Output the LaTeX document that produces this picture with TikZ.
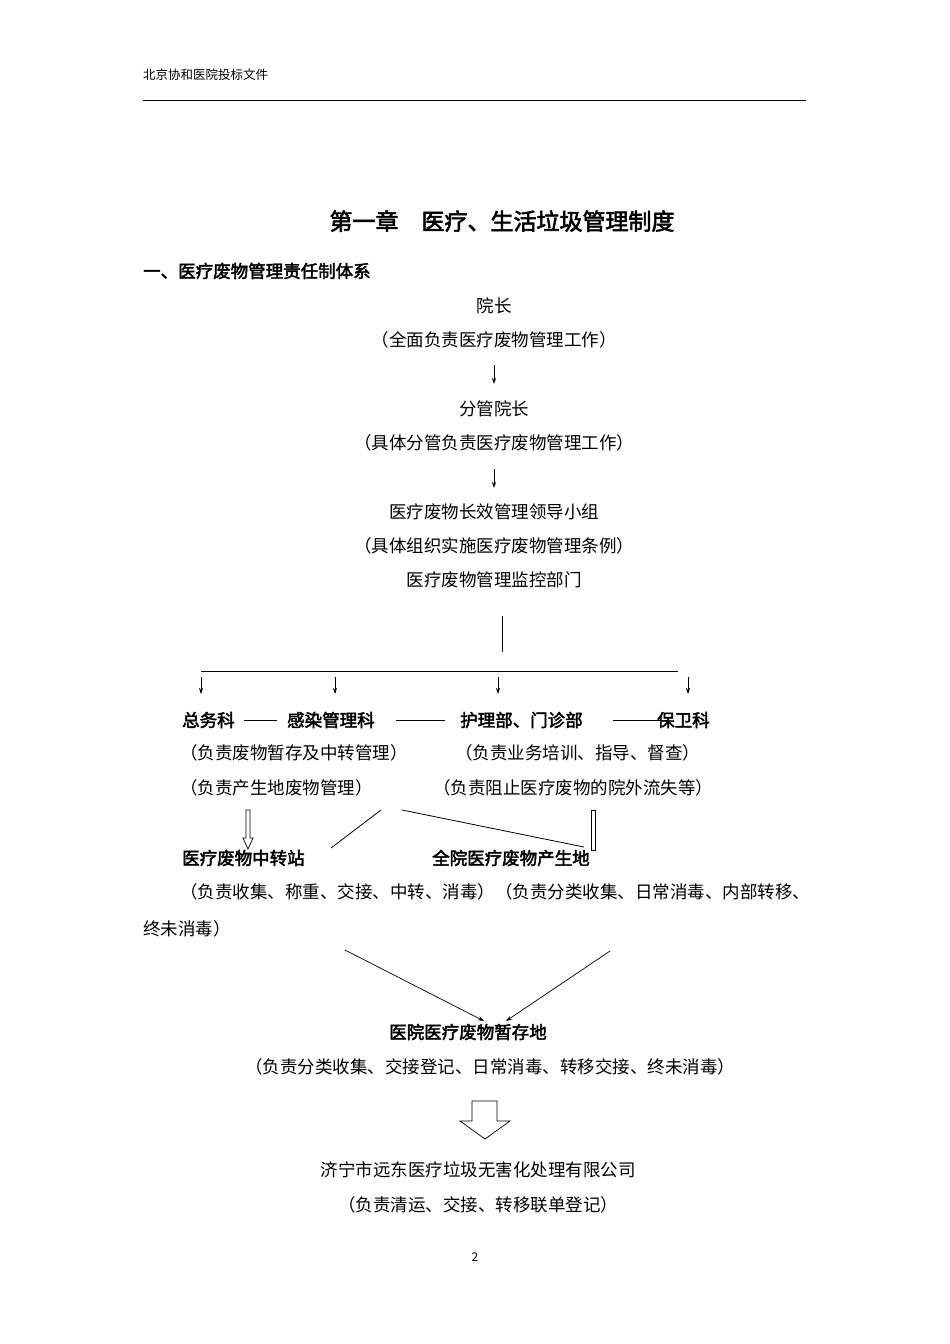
\documentclass[tikz,border=0pt]{standalone}
\usepackage{fontspec}
\setmainfont{Noto Sans CJK SC}[AutoFakeBold=2.5]
\usetikzlibrary{arrows.meta}
\begin{document}
\begin{tikzpicture}[x=1pt,y=-1pt,
  txt/.style={inner sep=0pt,font=\fontsize{17.5}{20}\selectfont},
  btxt/.style={inner sep=0pt,font=\fontsize{17.5}{20}\selectfont\bfseries},
  arr/.style={-{Stealth[length=6pt,width=4pt]},line width=0.7pt},
  ln/.style={line width=0.8pt},
  hollow/.style={draw,line width=0.7pt,fill=white}]
\useasboundingbox (0,0) rectangle (950,1344);
\node[txt,anchor=west,font=\fontsize{12.5}{14}\selectfont] (hdr) at (143,75) {北京协和医院投标文件};
\draw[line width=1pt] (143,100) -- (806,100);
\node[btxt,font=\fontsize{23}{26}\selectfont\bfseries] (title) at (502,221) {第一章\quad 医疗、生活垃圾管理制度};
\node[btxt,anchor=west] (sec) at (143,271) {一、医疗废物管理责任制体系};
\node[txt] (a1) at (494,306) {院长};
\node[txt] (a2) at (494,340) {（全面负责医疗废物管理工作）};
\node[txt] (b1) at (494,409) {分管院长};
\node[txt] (b2) at (494,443) {（具体分管负责医疗废物管理工作）};
\node[txt] (c1) at (494,512) {医疗废物长效管理领导小组};
\node[txt] (c2) at (494,546) {（具体组织实施医疗废物管理条例）};
\node[txt] (c3) at (494,580) {医疗废物管理监控部门};
\coordinate (u1) at (494,365); \coordinate (u2) at (494,384);
\coordinate (v1) at (494,469); \coordinate (v2) at (494,488);
\draw[arr] (u1) -- (u2);
\draw[arr] (v1) -- (v2);
\coordinate (t1) at (502,616); \coordinate (t2) at (502,652);
\draw[ln] (t1) -- (t2);
\coordinate (h1) at (201,671); \coordinate (h2) at (678,671);
\draw[ln] (h1) -- (h2);
\foreach \x in {201,335,498,688}{\draw[arr] (\x,677) -- (\x,694);}
\node[btxt,anchor=west] (d1) at (182,720) {总务科};
\node[btxt,anchor=west] (d2) at (287,720) {感染管理科};
\node[btxt,anchor=west] (d3) at (460,720) {护理部、门诊部};
\node[btxt,anchor=west] (d4) at (657,720) {保卫科};
\draw[ln] (244,720) -- (277,720);
\draw[ln] (396,720) -- (445,720);
\draw[ln] (613,720) -- (668,720);
\node[txt,anchor=west] (e1) at (180,753) {（负责废物暂存及中转管理）};
\node[txt,anchor=west] (e2) at (455,753) {（负责业务培训、指导、督查）};
\node[txt,anchor=west] (f1) at (180,788) {（负责产生地废物管理）};
\node[txt,anchor=west] (f2) at (433,788) {（负责阻止医疗废物的院外流失等）};
% hollow thin arrows
\draw[hollow] (246,810) -- (250,810) -- (250,838) -- (253,838) -- (248,849) -- (243,838) -- (246,838) -- cycle;
\draw[hollow] (591,810) -- (595,810) -- (595,850) -- (591,850) -- cycle;
\draw[ln] (381,810) -- (331,848);
\draw[ln] (402,810) -- (584,847);
\node[btxt,anchor=west] (g1) at (182,858) {医疗废物中转站};
\node[btxt,anchor=west] (g2) at (432,858) {全院医疗废物产生地};
\node[txt,anchor=west] (k1) at (180,892) {（负责收集、称重、交接、中转、消毒）（负责分类收集、日常消毒、内部转移、};
\node[txt,anchor=west] (k2) at (143,929) {终未消毒）};
\coordinate (m1) at (345,950); \coordinate (m2) at (484,1021);
\coordinate (n1) at (610,951); \coordinate (n2) at (506,1021);
\draw[arr] (m1) -- (m2);
\draw[arr] (n1) -- (n2);
\node[btxt] (p1) at (468,1032) {医院医疗废物暂存地};
\node[txt] (p2) at (490,1067) {（负责分类收集、交接登记、日常消毒、转移交接、终未消毒）};
\draw[hollow] (472,1101) -- (497,1101) -- (497,1121) -- (510,1121) -- (485,1139) -- (460,1121) -- (472,1121) -- cycle;
\node[txt] (q1) at (478,1170) {济宁市远东医疗垃圾无害化处理有限公司};
\node[txt] (q2) at (478,1205) {（负责清运、交接、转移联单登记）};
\node[txt,font=\fontsize{12}{14}\selectfont] (pg) at (475,1257) {2};
\end{tikzpicture}
\end{document}
